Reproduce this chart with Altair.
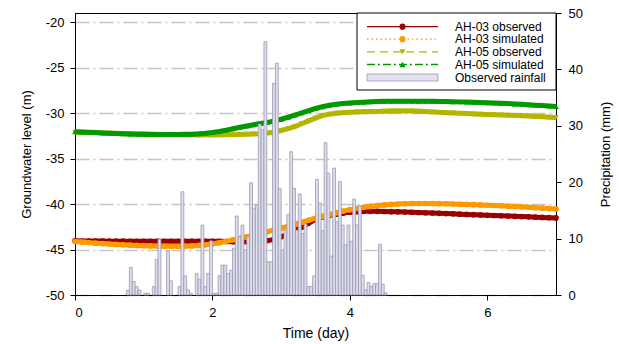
import altair as alt
import pandas as pd

# ---------------- data ----------------
time_day = [round(i * 0.1, 1) for i in range(71)]

ah03_obs = [-44.05, -44.06, -44.06, -44.07, -44.07, -44.08, -44.08, -44.08, -44.09, -44.09,
            -44.09, -44.10, -44.10, -44.10, -44.10, -44.10, -44.10, -44.10, -44.10, -44.10,
            -44.10, -44.10, -44.12, -44.14, -44.16, -44.15, -44.12, -44.08, -44.02, -43.90,
            -43.60, -43.30, -42.90, -42.55, -42.10, -41.70, -41.42, -41.25, -41.12, -41.00,
            -40.90, -40.84, -40.80, -40.80, -40.80, -40.82, -40.84, -40.86, -40.88, -40.90,
            -40.93, -40.96, -40.99, -41.02, -41.05, -41.08, -41.11, -41.14, -41.17, -41.20,
            -41.23, -41.26, -41.29, -41.32, -41.35, -41.38, -41.41, -41.44, -41.47, -41.50,
            -41.53]

ah03_sim = [-44.12, -44.18, -44.24, -44.30, -44.35, -44.40, -44.44, -44.48, -44.52, -44.55,
            -44.58, -44.60, -44.62, -44.63, -44.64, -44.64, -44.63, -44.60, -44.55, -44.48,
            -44.38, -44.25, -44.10, -43.94, -43.78, -43.60, -43.42, -43.24, -43.05, -42.85,
            -42.65, -42.44, -42.22, -42.00, -41.78, -41.56, -41.35, -41.15, -40.96, -40.78,
            -40.62, -40.48, -40.36, -40.26, -40.17, -40.10, -40.04, -40.00, -39.97, -39.95,
            -39.94, -39.94, -39.95, -39.96, -39.98, -40.00, -40.02, -40.04, -40.07, -40.10,
            -40.13, -40.16, -40.19, -40.23, -40.27, -40.31, -40.35, -40.40, -40.45, -40.50,
            -40.55]

ah05_obs = [-32.10, -32.12, -32.15, -32.17, -32.19, -32.21, -32.23, -32.25, -32.27, -32.29,
            -32.31, -32.33, -32.34, -32.35, -32.36, -32.37, -32.38, -32.39, -32.40, -32.40,
            -32.40, -32.40, -32.39, -32.38, -32.36, -32.33, -32.30, -32.26, -32.20, -32.10,
            -31.92, -31.72, -31.48, -31.18, -30.86, -30.55, -30.28, -30.12, -30.02, -29.96,
            -29.92, -29.88, -29.86, -29.84, -29.82, -29.80, -29.78, -29.77, -29.77, -29.78,
            -29.80, -29.83, -29.87, -29.92, -29.96, -30.00, -30.03, -30.06, -30.09, -30.12,
            -30.15, -30.18, -30.21, -30.24, -30.27, -30.30, -30.33, -30.37, -30.41, -30.45,
            -30.48]

ah05_sim = [-32.05, -32.08, -32.12, -32.15, -32.18, -32.21, -32.24, -32.27, -32.30, -32.32,
            -32.34, -32.35, -32.36, -32.36, -32.36, -32.35, -32.34, -32.32, -32.28, -32.22,
            -32.14, -32.02, -31.88, -31.72, -31.56, -31.42, -31.28, -31.15, -31.02, -30.86,
            -30.68, -30.46, -30.22, -29.98, -29.74, -29.50, -29.30, -29.15, -29.04, -28.96,
            -28.90, -28.85, -28.80, -28.76, -28.73, -28.71, -28.70, -28.69, -28.69, -28.69,
            -28.70, -28.70, -28.71, -28.72, -28.73, -28.75, -28.77, -28.79, -28.81, -28.83,
            -28.86, -28.89, -28.92, -28.96, -29.00, -29.04, -29.08, -29.13, -29.18, -29.23,
            -29.28]

# hourly rainfall (mm), first value is hour 18
rain_start_hour = 18
rain_mm = [0.8, 4.9, 2.4, 1.5, 0.9, 0.0, 0.3, 0.3, 0.0, 1.5,
           6.3, 9.9, 0.0, 0.0, 7.9, 2.5, 0.0, 0.0, 1.5, 18.3,
           3.4, 0.9, 0.3, 0.0, 3.8, 2.8, 12.4, 1.5, 3.8, 9.6,
           0.3, 0.3, 3.4, 5.3, 5.3, 3.8, 4.4, 8.3, 14.0, 10.3,
           12.4, 8.0, 10.3, 19.9, 15.4, 16.0, 30.3, 29.3, 44.9, 5.9,
           5.9, 37.5, 41.1, 18.9, 8.0, 11.5, 14.3, 25.4, 18.9, 11.5,
           17.9, 10.9, 12.6, 1.5, 1.5, 3.4, 20.5, 16.3, 11.4, 27.0,
           21.6, 6.9, 22.5, 13.0, 20.1, 12.4, 8.9, 12.4, 9.5, 17.0,
           12.4, 15.8, 3.5, 0.9, 2.2, 1.5, 2.0, 2.0, 9.0, 1.9,
           0.4]

series_names = ["AH-03 observed", "AH-03 simulated", "AH-05 observed", "AH-05 simulated"]
series_values = [ah03_obs, ah03_sim, ah05_obs, ah05_sim]
series_colors = ["#990000", "#ff9900", "#b5b500", "#009900"]
series_shapes = ["circle", "circle", "triangle-down", "triangle-up"]
series_dash = [[1, 0], [1.5, 3], [8, 5], [8, 3, 2, 3]]
legend_label_rain = "Observed rainfall"

x_ticks = [0, 2, 4, 6]
y_left_ticks = [-50, -45, -40, -35, -30, -25, -20]
y_right_ticks = [0, 10, 20, 30, 40, 50]

# ---------------- chart ----------------
W, H = 481, 282
FONT = "Liberation Sans"
plain_label = "'' + datum.value"

x_scale = alt.Scale(domain=[0, 7], nice=False, zero=False)
x_axis = alt.Axis(values=x_ticks, labelExpr=plain_label, title="Time (day)", grid=False,
                  tickSize=5, labelPadding=6, labelFontSize=13, titleFontSize=14,
                  titleX=W / 2, titleY=38, titleBaseline="middle")
yl_scale = alt.Scale(domain=[-50, -19], nice=False, zero=False)
yl_axis = alt.Axis(values=y_left_ticks, labelExpr=plain_label, title="Groundwater level (m)", grid=True,
                   gridColor="#c6c6be", gridDash=[14, 4, 2, 4], gridWidth=1.3,
                   tickSize=5, labelPadding=6, labelFontSize=13, titleFontSize=13,
                   titleX=-49, titleY=H / 2, titleBaseline="middle", titleAngle=270)
yr_scale = alt.Scale(domain=[0, 50], nice=False)
yr_axis = alt.Axis(orient="right", values=y_right_ticks, labelExpr=plain_label,
                   title="Precipitation (mm)", grid=False,
                   tickSize=5, labelPadding=7, labelFontSize=13, titleFontSize=13,
                   titleX=49, titleY=H / 2, titleBaseline="middle", titleAngle=270)

line_layers = []
for name, vals, col, shp in zip(series_names, series_values, series_colors, series_shapes):
    d = pd.DataFrame({"t": time_day, "level": vals})
    base = alt.Chart(d).encode(
        x=alt.X("t:Q", scale=x_scale, axis=x_axis),
        y=alt.Y("level:Q", scale=yl_scale, axis=yl_axis),
    )
    line_layers.append(base.mark_line(color=col, strokeWidth=5))
    line_layers.append(base.mark_point(filled=True, color=col, shape=shp, size=32, opacity=1))
left = alt.layer(*line_layers)

rain_df = pd.DataFrame({"hour": list(range(rain_start_hour, rain_start_hour + len(rain_mm))),
                        "rain": rain_mm})
rain_df = rain_df[rain_df["rain"] > 0].copy()
rain_df["t0"] = rain_df["hour"] / 24.0
rain_df["t1"] = (rain_df["hour"] + 1) / 24.0
rain_df["base"] = 0.0

bars = alt.Chart(rain_df).mark_bar(fill="#dedeea", stroke="#9898b4", strokeWidth=0.8).encode(
    x=alt.X("t0:Q", scale=x_scale, axis=x_axis),
    x2="t1:Q",
    y=alt.Y("rain:Q", scale=yr_scale, axis=yr_axis),
    y2="base:Q",
)

# ---------------- legend (drawn in pixel space) ----------------
one = pd.DataFrame({"a": [0]})
leg = [alt.Chart(one).mark_rect(fill="white", stroke="black", strokeWidth=1).encode(
    x=alt.value(282), x2=alt.value(W), y=alt.value(0), y2=alt.value(77))]
row_y = [13.7, 26.2, 38.8, 51.5]
for name, col, shp, dash, yy in zip(series_names, series_colors, series_shapes, series_dash, row_y):
    leg.append(alt.Chart(one).mark_rule(color=col, strokeWidth=1.3, strokeDash=dash).encode(
        x=alt.value(292), x2=alt.value(363), y=alt.value(yy)))
    leg.append(alt.Chart(one).mark_point(filled=True, color=col, shape=shp, size=38, opacity=1).encode(
        x=alt.value(327.5), y=alt.value(yy)))
    leg.append(alt.Chart(one).mark_text(text=name, align="left", baseline="middle", font=FONT,
                                        fontSize=12, color="black").encode(
        x=alt.value(380), y=alt.value(yy)))
leg.append(alt.Chart(one).mark_rect(fill="#e2e2ee", stroke="#9a9ab8", strokeWidth=0.8).encode(
    x=alt.value(292), x2=alt.value(363), y=alt.value(61), y2=alt.value(68)))
leg.append(alt.Chart(one).mark_text(text=legend_label_rain, align="left", baseline="middle", font=FONT,
                                    fontSize=12, color="black").encode(
    x=alt.value(380), y=alt.value(64.5)))

chart = alt.layer(left, bars, *leg).resolve_scale(y="independent").properties(
    width=W, height=H,
    padding={"left": 75, "top": 13, "right": 63, "bottom": 49},
    autosize=alt.AutoSizeParams(type="none"),
).configure_view(stroke="black", strokeWidth=1).configure_axis(
    domainColor="black", tickColor="black", labelColor="black", titleColor="black",
    labelFont=FONT, titleFont=FONT, titleFontWeight="normal", domainWidth=1, tickWidth=1,
)

chart.save("out.html", embed_options={"renderer": "svg", "actions": False})
